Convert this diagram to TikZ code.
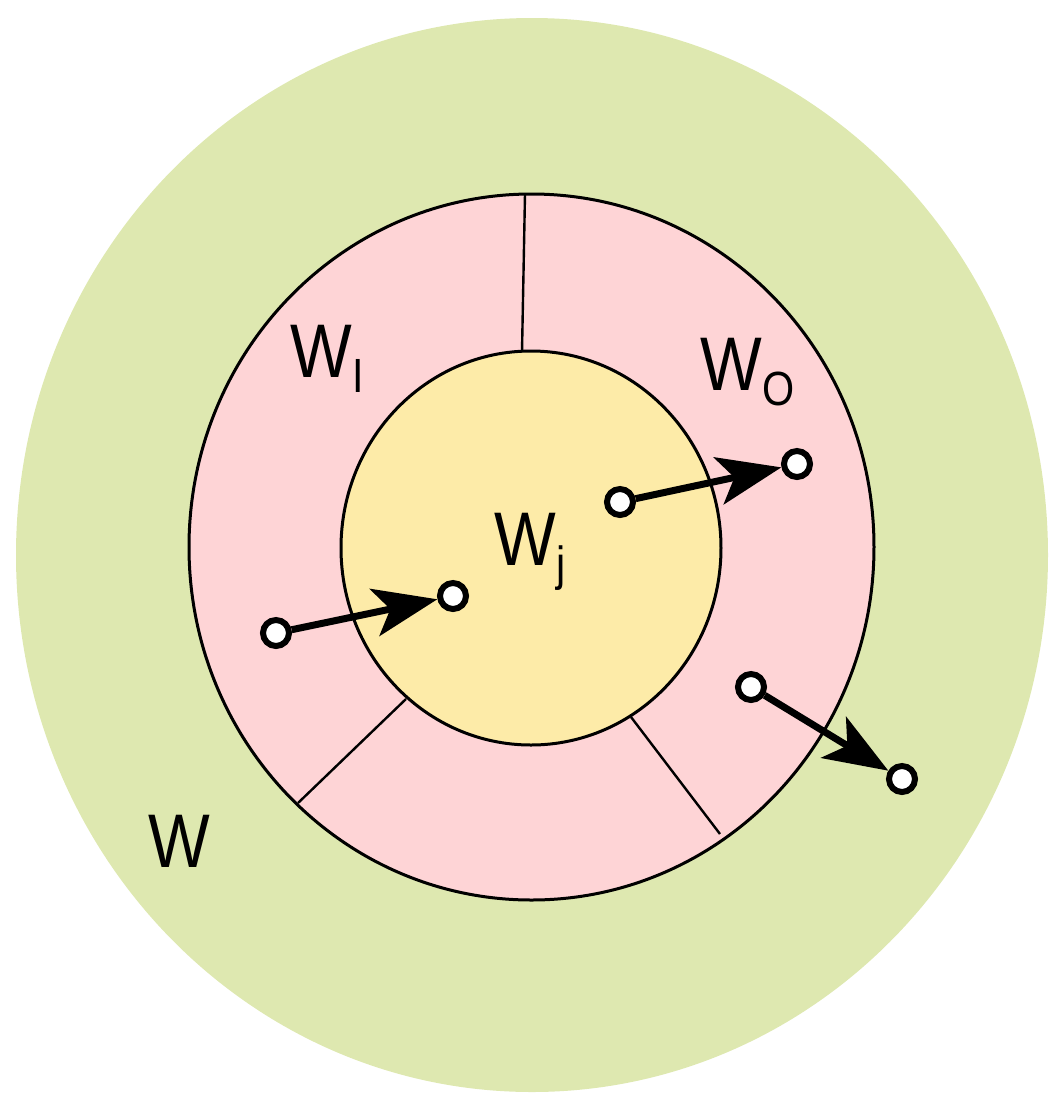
\documentclass[tikz,border=0pt]{standalone}
\usepackage{fontspec}
\usetikzlibrary{positioning,arrows.meta}
\newfontfamily\lblfont[FakeStretch=0.86]{Liberation Sans}
\definecolor{outerfill}{HTML}{DEE8B0}
\definecolor{ringfill}{HTML}{FED4D6}
\definecolor{corefill}{HTML}{FDEBA8}
\newcommand{\lowidx}[1]{\raisebox{-7.5pt}{\fontsize{24pt}{24pt}\selectfont #1}}

\begin{document}
\begin{tikzpicture}[x=0.5pt,y=-0.5pt,
  region/.style={draw=black, line width=1.5pt},
  divider/.style={draw=black, line width=1.2pt},
  port/.style={circle, draw=black, fill=white, line width=3pt, minimum size=13pt, inner sep=0pt},
  flow/.style={draw=black, line width=3.5pt, -{Stealth[length=32pt, width=24pt, inset=8pt]}},
  lbl/.style={anchor=base west, inner sep=0pt, font=\lblfont\fontsize{38pt}{38pt}\selectfont}]
\useasboundingbox (0,0) rectangle (1063,1110);
% nested regions
\fill[outerfill] (532,555) ellipse [x radius=258pt, y radius=268.5pt];
\draw[region, fill=ringfill] (531.5,547) ellipse [x radius=171.25pt, y radius=176.5pt];
\draw[region, fill=corefill] (531,548) ellipse [x radius=95pt, y radius=98.5pt];
% ring dividers
\draw[divider] (525,194) -- (522,352);
\draw[divider] (298,803) -- (406,699);
\draw[divider] (631,717) -- (720,834);
% labels
\node[lbl] (wi) at (290,377) {W\lowidx{I}};
\node[lbl] (wo) at (700,390) {W\lowidx{O}};
\node[lbl] (wj) at (494,565) {W\lowidx{j}};
\node[lbl] (w) at (148,867) {W};
% ports
\node[port] (in1) at (276,633) {};
\node[port] (in2) at (453,596) {};
\node[port] (out1) at (620,502) {};
\node[port] (out2) at (797,464) {};
\node[port] (ext1) at (751,687) {};
\node[port] (ext2) at (902,779) {};
% flows
\draw[flow] (in1) -- (in2);
\draw[flow] (out1) -- (out2);
\draw[flow] (ext1) -- (ext2);
\end{tikzpicture}
\end{document}
